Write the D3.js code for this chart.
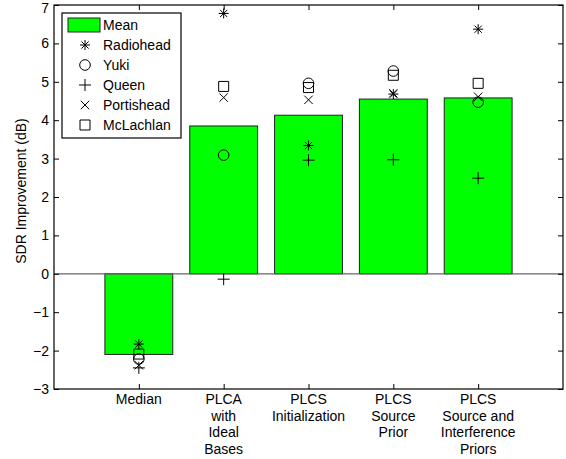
<!DOCTYPE html>
<html>
<head>
<meta charset="utf-8">
<script src="https://cdn.jsdelivr.net/npm/d3@7"></script>
<style>
  body { margin: 0; background: #fff; }
  svg { display: block; font-family: "Liberation Sans", Arial, sans-serif; }
</style>
</head>
<body>
<div id="chart"></div>
<script>
// data
var categories = [
  ["Median"],
  ["PLCA", "with", "Ideal", "Bases"],
  ["PLCS", "Initialization"],
  ["PLCS", "Source", "Prior"],
  ["PLCS", "Source and", "Interference", "Priors"]
];
var means      = [-2.10, 3.85, 4.13, 4.55, 4.58];
var radiohead  = [-1.83, 6.78, 3.34, 4.68, 6.37];
var yuki       = [-2.22, 3.09, 4.96, 5.28, 4.47];
var queen      = [-2.45, -0.14, 2.96, 2.97, 2.49];
var portishead = [-2.38, 4.59, 4.53, 4.70, 4.61];
var mclachlan  = [-2.09, 4.88, 4.85, 5.17, 4.96];
var yTicks = [-3, -2, -1, 0, 1, 2, 3, 4, 5, 6, 7];

var W = 566, H = 459;
var margin = { top: 5, right: 3, bottom: 70, left: 54 };
var width = W - margin.left - margin.right;
var height = H - margin.top - margin.bottom;
var fs = "14px";

var svg = d3.select("#chart").append("svg")
  .attr("width", W).attr("height", H);
var g = svg.append("g")
  .attr("transform", "translate(" + margin.left + "," + margin.top + ")");

var x = d3.scaleLinear().domain([0, 6]).range([0, width]);
var y = d3.scaleLinear().domain([-3, 7]).range([height, 0]);
var barW = x(0.8) - x(0);

// bars
g.selectAll(".bar")
  .data(means)
  .enter().append("rect")
  .attr("x", function(d, i) { return x(i + 1) - barW / 2; })
  .attr("y", function(d) { return y(Math.max(0, d)); })
  .attr("width", barW)
  .attr("height", function(d) { return Math.abs(y(d) - y(0)); })
  .attr("fill", "#00ff00")
  .attr("stroke", "#222")
  .attr("stroke-width", 1);

// zero baseline
g.append("line")
  .attr("x1", 0).attr("x2", width)
  .attr("y1", y(0)).attr("y2", y(0))
  .attr("stroke", "#666").attr("stroke-width", 1.2);

// marker shapes
function drawMarker(sel, type) {
  sel.attr("fill", "none").attr("stroke", "#000").attr("stroke-width", 1);
  if (type == "star") {
    sel.attr("d", "M-5,0H5M0,-5V5M-3.6,-3.6L3.6,3.6M-3.6,3.6L3.6,-3.6");
  } else if (type == "circle") {
    sel.attr("d", d3.symbol().type(d3.symbolCircle).size(Math.PI * 5.3 * 5.3)());
  } else if (type == "plus") {
    sel.attr("d", "M-6,0H6M0,-6V6");
  } else if (type == "x") {
    sel.attr("d", "M-4.2,-4.2L4.2,4.2M-4.2,4.2L4.2,-4.2");
  } else if (type == "square") {
    sel.attr("d", "M-5,-5H5V5H-5Z");
  }
}

var series = [
  { name: "Radiohead", values: radiohead, type: "star" },
  { name: "Yuki", values: yuki, type: "circle" },
  { name: "Queen", values: queen, type: "plus" },
  { name: "Portishead", values: portishead, type: "x" },
  { name: "McLachlan", values: mclachlan, type: "square" }
];

series.forEach(function(s) {
  g.selectAll(".m-" + s.type)
    .data(s.values)
    .enter().append("path")
    .attr("class", "m-" + s.type)
    .attr("transform", function(d, i) { return "translate(" + x(i + 1) + "," + y(d) + ")"; })
    .call(drawMarker, s.type);
});

// axes box
g.append("rect")
  .attr("width", width).attr("height", height)
  .attr("fill", "none").attr("stroke", "#000").attr("stroke-width", 1.2);

var xTickVals = [1, 2, 3, 4, 5];

// ticks inside on all four sides
var yl = g.append("g").call(d3.axisLeft(y).tickValues(yTicks).tickSizeInner(-5).tickSizeOuter(0).tickPadding(5));
var yr = g.append("g").attr("transform", "translate(" + width + ",0)")
  .call(d3.axisRight(y).tickValues(yTicks).tickSizeInner(-5).tickSizeOuter(0).tickFormat(""));
var xb = g.append("g").attr("transform", "translate(0," + height + ")")
  .call(d3.axisBottom(x).tickValues(xTickVals).tickSizeInner(-5).tickSizeOuter(0).tickFormat(""));
var xt = g.append("g")
  .call(d3.axisTop(x).tickValues(xTickVals).tickSizeInner(-5).tickSizeOuter(0).tickFormat(""));

[yl, yr, xb, xt].forEach(function(a) {
  a.select(".domain").remove();
  a.selectAll("line").attr("stroke", "#000");
});
yl.selectAll("text").style("font-size", fs).style("font-family", "Liberation Sans, Arial, sans-serif").attr("fill", "#000");
// top label sits partly above the canvas, nudge it in
yl.selectAll("text").filter(function(d) { return d == 7; }).attr("dy", "0.5em");

// multi-line category labels
var xl = g.append("g").attr("transform", "translate(0," + height + ")");
categories.forEach(function(lines, i) {
  var t = xl.append("text")
    .attr("x", x(i + 1))
    .attr("y", 15)
    .attr("text-anchor", "middle")
    .style("font-size", fs);
  lines.forEach(function(line, j) {
    t.append("tspan").attr("x", x(i + 1)).attr("dy", j == 0 ? 0 : 16.5).text(line);
  });
});

// y label
svg.append("text")
  .attr("transform", "translate(26," + 191 + ") rotate(-90)")
  .attr("text-anchor", "middle")
  .style("font-size", fs)
  .text("SDR Improvement (dB)");

// legend
var lg = g.append("g").attr("transform", "translate(8,8)");
lg.append("rect")
  .attr("width", 119).attr("height", 125)
  .attr("fill", "#fff").attr("stroke", "#000").attr("stroke-width", 1.2);
lg.append("rect")
  .attr("x", 6).attr("y", 5).attr("width", 32).attr("height", 14)
  .attr("fill", "#00ff00").attr("stroke", "#222");
lg.append("text").attr("x", 41).attr("y", 17).style("font-size", fs).text("Mean");
series.forEach(function(s, i) {
  var cy = 32 + i * 20;
  lg.append("path").attr("transform", "translate(23," + cy + ")").call(drawMarker, s.type);
  lg.append("text").attr("x", 41).attr("y", cy + 5).style("font-size", fs).text(s.name);
});
</script>
</body>
</html>
